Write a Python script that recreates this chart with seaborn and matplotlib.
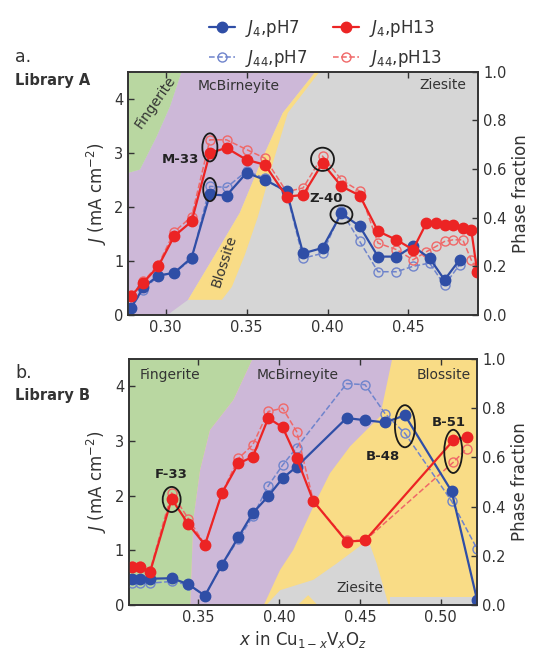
import matplotlib
matplotlib.use("Agg")
import matplotlib.pyplot as plt
from matplotlib.patches import Ellipse
import seaborn as sns

sns.set_style("ticks")
plt.rcParams['font.family'] = ['DejaVu Sans']
plt.rcParams['mathtext.fontset'] = 'dejavusans'

# colours
BLUE = '#2f4ea6'
RED = '#ec2424'
BLUE_L = '#6f84cc'
RED_L = '#f06868'
GREY = '#d6d6d6'
PURPLE = '#cdb8d8'
GREEN = '#b9d7a1'
YELLOW = '#f9dc86'
ORANGE = '#f3b99a'
INK = '#333333'

# ---------------- Library A ----------------
xa_pH7 = [0.2786, 0.2862, 0.2954, 0.3053, 0.3160, 0.3273, 0.3376, 0.3500, 0.3613, 0.3747,
          0.3849, 0.3969, 0.4086, 0.4199, 0.4312, 0.4426, 0.4528, 0.4631, 0.4723, 0.4816]
ja4_pH7 = [0.13, 0.51, 0.73, 0.78, 1.06, 2.23, 2.21, 2.63, 2.50, 2.29,
           1.14, 1.24, 1.88, 1.64, 1.08, 1.08, 1.27, 1.05, 0.65, 1.02]
ja44_pH7 = [0.13, 0.47, 0.72, 0.78, 1.03, 2.38, 2.36, 2.66, 2.53, 2.26,
            1.05, 1.14, 1.92, 1.36, 0.80, 0.80, 0.90, 0.96, 0.55, 0.93]

xa_pH13 = [0.2786, 0.2862, 0.2954, 0.3053, 0.3160, 0.3273, 0.3376, 0.3500, 0.3613, 0.3747,
           0.3849, 0.3969, 0.4086, 0.4199, 0.4312, 0.4426, 0.4528, 0.4611, 0.4672, 0.4723,
           0.4775, 0.4836, 0.4888, 0.4925]
ja4_pH13 = [0.35, 0.60, 0.90, 1.46, 1.73, 3.00, 3.09, 2.87, 2.78, 2.19,
            2.22, 2.81, 2.38, 2.21, 1.55, 1.39, 1.21, 1.70, 1.70, 1.67,
            1.67, 1.61, 1.58, 0.80]
ja44_pH13 = [0.37, 0.62, 0.93, 1.54, 1.82, 3.24, 3.24, 3.06, 2.90, 2.28,
             2.35, 2.94, 2.50, 2.29, 1.33, 1.21, 1.02, 1.17, 1.27, 1.36,
             1.39, 1.39, 1.02, 0.83]

# phase regions, library A (x, J)
a_orange_x = [0.25, 0.2872, 0.25]
a_orange_y = [4.6, 4.6, 4.10]
a_green_x = [0.25, 0.2872, 0.3109, 0.3027, 0.2944, 0.2841, 0.25]
a_green_y = [4.10, 4.6, 4.6, 3.86, 3.30, 2.69, 2.40]
a_purple_x = [0.3109, 0.3952, 0.3724, 0.3594, 0.3458, 0.3304, 0.3212, 0.3138, 0.2965,
              0.25, 0.25, 0.2841, 0.2944, 0.3027]
a_purple_y = [4.6, 4.6, 3.74, 2.87, 1.89, 1.11, 0.65, 0.28, -0.1,
              -0.1, 2.40, 2.69, 3.30, 3.86]
a_yellow_x = [0.3138, 0.3212, 0.3304, 0.3458, 0.3594, 0.3724, 0.3952, 0.3977,
              0.3755, 0.3668, 0.3569, 0.3489, 0.3409, 0.3347]
a_yellow_y = [0.28, 0.65, 1.11, 1.89, 2.87, 3.74, 4.6, 4.6,
              3.74, 2.87, 1.81, 1.11, 0.52, 0.28]

# ---------------- Library B ----------------
xb_pH7 = [0.3088, 0.3139, 0.3201, 0.3335, 0.3438, 0.3541, 0.3645, 0.3748, 0.3837, 0.3933,
          0.4022, 0.4109, 0.4418, 0.4532, 0.4656, 0.4779, 0.5068, 0.5225]
jb4_pH7 = [0.47, 0.48, 0.48, 0.49, 0.38, 0.17, 0.73, 1.24, 1.68, 1.99,
           2.32, 2.53, 3.42, 3.38, 3.34, 3.47, 2.08, 0.10]
jb44_pH7 = [0.40, 0.40, 0.40, 0.43, 0.37, 0.17, 0.73, 1.20, 1.62, 2.18,
            2.56, 2.88, 4.05, 4.03, 3.50, 3.14, 1.90, 1.03]

xb_pH13 = [0.3088, 0.3139, 0.3201, 0.3335, 0.3438, 0.3541, 0.3645, 0.3748, 0.3837, 0.3933,
           0.4022, 0.4109, 0.4212, 0.4418, 0.4532, 0.5078, 0.5161]
jb4_pH13 = [0.69, 0.69, 0.60, 1.94, 1.48, 1.10, 2.04, 2.59, 2.71, 3.42,
            3.25, 2.69, 1.90, 1.16, 1.18, 3.01, 3.08]
jb44_pH13 = [0.72, 0.72, 0.63, 2.05, 1.58, 1.10, 2.04, 2.68, 2.93, 3.54,
             3.60, 3.17, 1.90, 1.18, 1.18, 2.61, 2.86]

# phase regions, library B (x, J)
b_green_x = [0.28, 0.3851, 0.3717, 0.3572, 0.3511, 0.3469, 0.3449, 0.28]
b_green_y = [4.6, 4.6, 3.75, 3.20, 2.47, 1.56, -0.1, -0.1]
b_purple_x = [0.3851, 0.4707, 0.4625, 0.4439, 0.4315, 0.4212, 0.4088, 0.4006, 0.3890,
              0.3449, 0.3469, 0.3511, 0.3572, 0.3717]
b_purple_y = [4.6, 4.6, 3.45, 2.90, 2.41, 1.80, 1.01, 0.64, -0.1,
              -0.1, 1.56, 2.47, 3.20, 3.75]
b_grey_x = [0.3890, 0.4006, 0.4212, 0.4357, 0.4552, 0.4604, 0.4645, 0.4687, 0.4270, 0.4180, 0.4080]
b_grey_y = [-0.1, 0.27, 0.46, 0.76, 1.19, 0.76, 0.34, -0.1, -0.1, 0.18, -0.1]
b_strip_x = [0.4687, 0.53, 0.53, 0.4687]
b_strip_y = [-0.1, -0.1, 0.14, 0.14]

fig = plt.figure(figsize=(5.38, 6.52), dpi=100)
ax_a = fig.add_axes([0.2385, 0.5169, 0.6506, 0.3731])
ax_b = fig.add_axes([0.2398, 0.0721, 0.6474, 0.3773])


def draw_series(ax, x, y, color, filled, label):
    sns.lineplot(x=x, y=y, ax=ax, color=color, lw=1.6 if filled else 1.1,
                 linestyle='-' if filled else '--', marker='o',
                 markersize=7.5 if filled else 6.5,
                 markerfacecolor=color if filled else 'none',
                 markeredgecolor=color, markeredgewidth=1.0,
                 zorder=4 if filled else 3, label=label, sort=False)


def style_axes(ax, xlim, xticks):
    ax.set_xlim(*xlim)
    ax.set_ylim(0, 4.5)
    ax.set_xticks(xticks)
    ax.set_xticklabels([f'{t:.2f}' for t in xticks])
    ax.set_yticks([0, 1, 2, 3, 4])
    ax.tick_params(direction='in', length=4, top=True, right=False,
                   labelsize=10.5, colors=INK, width=1)
    for s in ax.spines.values():
        s.set_color(INK)
        s.set_linewidth(1.2)
    ax.set_ylabel('$J$ (mA cm$^{-2}$)', fontsize=12, color=INK, labelpad=4)
    ax.set_xlabel('')
    tw = ax.twinx()
    tw.set_ylim(0, 1.0)
    tw.set_yticks([0.0, 0.2, 0.4, 0.6, 0.8, 1.0])
    tw.set_yticklabels(['0.0', '0.2', '0.4', '0.6', '0.8', '1.0'])
    tw.tick_params(direction='in', length=4, labelsize=10.5, colors=INK, width=1)
    tw.set_ylabel('Phase fraction', fontsize=12, color=INK, labelpad=4)
    for s in tw.spines.values():
        s.set_color(INK)
        s.set_linewidth(1.2)
    return tw


def ring(ax, x, y, w, h):
    ax.add_patch(Ellipse((x, y), w, h, fill=False, ec='#1a1a1a', lw=1.3, zorder=5))


# ---- panel a ----
ax_a.set_facecolor(GREY)
ax_a.fill(a_purple_x, a_purple_y, color=PURPLE, lw=0, zorder=0)
ax_a.fill(a_green_x, a_green_y, color=GREEN, lw=0, zorder=0)
ax_a.fill(a_orange_x, a_orange_y, color=ORANGE, lw=0, zorder=0)
ax_a.fill(a_yellow_x, a_yellow_y, color=YELLOW, lw=0, zorder=0)

draw_series(ax_a, xa_pH7, ja44_pH7, BLUE_L, False, '$J_{44}$,pH7')
draw_series(ax_a, xa_pH13, ja44_pH13, RED_L, False, '$J_{44}$,pH13')
draw_series(ax_a, xa_pH7, ja4_pH7, BLUE, True, '$J_{4}$,pH7')
draw_series(ax_a, xa_pH13, ja4_pH13, RED, True, '$J_{4}$,pH13')
handles, labels = ax_a.get_legend_handles_labels()
if ax_a.get_legend() is not None:
    ax_a.get_legend().remove()

style_axes(ax_a, (0.2769, 0.4932), [0.30, 0.35, 0.40, 0.45])

ax_a.text(0.2934, 3.93, 'Fingerite', rotation=55, fontsize=10, color=INK,
          ha='center', va='center', zorder=2)
ax_a.text(0.3448, 4.23, 'McBirneyite', fontsize=10, color=INK, ha='center', va='center', zorder=2)
ax_a.text(0.4713, 4.26, 'Ziesite', fontsize=10, color=INK, ha='center', va='center', zorder=2)
ax_a.text(0.3360, 1.00, 'Blossite', rotation=72, fontsize=10, color=INK,
          ha='center', va='center', zorder=2)
ax_a.text(0.3094, 2.87, 'M-33', fontsize=9.5, fontweight='bold', color='#222222',
          ha='center', va='center', zorder=6)
ax_a.text(0.3993, 2.16, 'Z-40', fontsize=9.5, fontweight='bold', color='#222222',
          ha='center', va='center', zorder=6)
ring(ax_a, xa_pH13[5], 3.10, 0.0093, 0.52)
ring(ax_a, xa_pH7[5], 2.32, 0.0082, 0.43)
ring(ax_a, xa_pH13[11], 2.88, 0.0142, 0.43)
ring(ax_a, xa_pH7[12], 1.86, 0.0136, 0.34)

# ---- panel b ----
ax_b.set_facecolor(YELLOW)
ax_b.fill(b_green_x, b_green_y, color=GREEN, lw=0, zorder=0)
ax_b.fill(b_purple_x, b_purple_y, color=PURPLE, lw=0, zorder=0)
ax_b.fill(b_grey_x, b_grey_y, color=GREY, lw=0, zorder=0)
ax_b.fill(b_strip_x, b_strip_y, color=GREY, lw=0, zorder=0)

draw_series(ax_b, xb_pH7, jb44_pH7, BLUE_L, False, None)
draw_series(ax_b, xb_pH13, jb44_pH13, RED_L, False, None)
draw_series(ax_b, xb_pH7, jb4_pH7, BLUE, True, None)
draw_series(ax_b, xb_pH13, jb4_pH13, RED, True, None)
if ax_b.get_legend() is not None:
    ax_b.get_legend().remove()

style_axes(ax_b, (0.3071, 0.5227), [0.35, 0.40, 0.45, 0.50])
ax_b.set_xlabel('$x$ in Cu$_{1-x}$V$_x$O$_z$', fontsize=12, color=INK, labelpad=3)

ax_b.text(0.3322, 4.21, 'Fingerite', fontsize=10, color=INK, ha='center', va='center', zorder=2)
ax_b.text(0.4117, 4.21, 'McBirneyite', fontsize=10, color=INK, ha='center', va='center', zorder=2)
ax_b.text(0.5021, 4.21, 'Blossite', fontsize=10, color=INK, ha='center', va='center', zorder=2)
ax_b.text(0.4501, 0.31, 'Ziesite', fontsize=10, color=INK, ha='center', va='center', zorder=2)
ax_b.text(0.3335, 2.38, 'F-33', fontsize=9.5, fontweight='bold', color='#222222',
          ha='center', va='center', zorder=6)
ax_b.text(0.4645, 2.72, 'B-48', fontsize=9.5, fontweight='bold', color='#222222',
          ha='center', va='center', zorder=6)
ax_b.text(0.5048, 3.33, 'B-51', fontsize=9.5, fontweight='bold', color='#222222',
          ha='center', va='center', zorder=6)
ring(ax_b, xb_pH13[3], 1.93, 0.0111, 0.46)
ring(ax_b, xb_pH7[15], 3.27, 0.0124, 0.77)
ring(ax_b, xb_pH13[15], 2.81, 0.0111, 0.79)

# ---- legend and panel tags ----
order = [2, 0, 3, 1]
fig.legend([handles[i] for i in order], [labels[i] for i in order], ncol=2,
           loc='upper left', bbox_to_anchor=(0.36, 0.995), frameon=False,
           fontsize=12, handlelength=1.6, columnspacing=1.5, labelspacing=0.5,
           handletextpad=0.6, labelcolor=INK)

fig.text(0.028, 0.912, 'a.', fontsize=12.5, color=INK, va='center')
fig.text(0.028, 0.877, 'Library A', fontsize=10.5, fontweight='bold', color=INK, va='center')
fig.text(0.028, 0.428, 'b.', fontsize=12.5, color=INK, va='center')
fig.text(0.028, 0.394, 'Library B', fontsize=10.5, fontweight='bold', color=INK, va='center')

fig.savefig('out.png', dpi=100)
